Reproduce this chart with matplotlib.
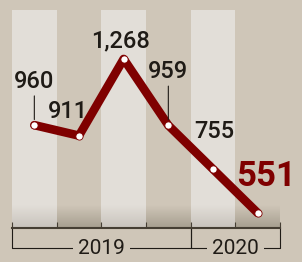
import numpy as np
import matplotlib
matplotlib.use('Agg')
import matplotlib.pyplot as plt

# values, one per column
values = [960, 911, 1268, 959, 755, 551]
value_labels = ['960', '911', '1,268', '959', '755', '551']
years = ['2019', '2020']
year_first = [0, 4]
year_last = [3, 5]

BG = '#cfc6b8'
LIGHT = '#e2ded8'
LIGHT_BOT = '#c8c3bc'
DARK_BOT = '#a69e8f'
RED = '#7f0000'
INK = '#1f1b16'
AXIS = '#453e33'

YMIN, YMAX = 481, 1496

# label offsets from the point, in pixels (dx, dy to baseline)
label_off = [(0, 37), (-11, 18), (-3, 12), (0, 47), (1, 31), (8, 27)]
leaders = [0, 3]

fig = plt.figure(figsize=(3.02, 2.62), dpi=100, facecolor=BG)
ax = fig.add_axes([12/302, 34/262, 268/302, 218/262])
ax.set_facecolor(BG)

x = np.arange(len(values))

# light columns on every other slot
light = x[::2]
ax.bar(light, YMAX - YMIN, bottom=YMIN, width=1.0, color=LIGHT, zorder=0)

# shaded strip at the foot of every column
grad_top = YMIN + 0.105 * (YMAX - YMIN)
t = np.linspace(0, 1, 50)[:, None]
for i in x:
    c0 = np.array(matplotlib.colors.to_rgb(LIGHT if i % 2 == 0 else BG))
    c1 = np.array(matplotlib.colors.to_rgb(LIGHT_BOT if i % 2 == 0 else DARK_BOT))
    img = (c0 * (1 - t) + c1 * t)[:, None, :]
    ax.imshow(img, extent=(i - 0.5, i + 0.5, YMIN, grad_top), aspect='auto',
              origin='upper', interpolation='bilinear', zorder=0.5)

ax.plot(x, values, color=RED, lw=6.2, solid_capstyle='round',
        solid_joinstyle='round', zorder=3)
ax.plot(x, values, ls='none', marker='o', ms=5.2, mfc='white', mec=RED,
        mew=0.6, zorder=4)

for i, (v, lab) in enumerate(zip(values, value_labels)):
    dx, dy = label_off[i]
    last = i == len(values) - 1
    kw = dict(family='Roboto', fontsize=25, fontweight='bold', color=RED) if last else \
        dict(family='Roboto', fontsize=17, fontweight='medium', color=INK)
    arrow = None
    if i in leaders:
        arrow = dict(arrowstyle='-', color=INK, lw=0.8, shrinkA=0, shrinkB=4)
    ax.annotate(lab, (i, v), xytext=(dx, dy), textcoords='offset pixels',
                ha='center', va='baseline', zorder=5, arrowprops=arrow, **kw)

ax.set_xlim(-0.5, len(values) - 0.5)
ax.set_ylim(YMIN, YMAX)
for s in ['left', 'right', 'top']:
    ax.spines[s].set_visible(False)
ax.spines['bottom'].set_color(AXIS)
ax.spines['bottom'].set_linewidth(1.5)
ax.set_yticks([])
ax.set_xticks(np.arange(-0.5, len(values)))
ax.set_xticklabels([])
ax.tick_params(axis='x', direction='in', length=4.3, width=0.8, color=AXIS)

# year brackets under the axis
tr = ax.get_xaxis_transform()
yb = -0.092
for name, a, b in zip(years, year_first, year_last):
    x0, x1 = a - 0.5, b + 0.5
    ax.plot([x0, x0, x1, x1], [0, yb, yb, 0], color=INK, lw=0.8,
            transform=tr, clip_on=False, zorder=1)
    ax.text((x0 + x1) / 2, yb, name, transform=tr, ha='center', va='center',
            family='Roboto', fontsize=15, color=INK,
            bbox=dict(boxstyle='square,pad=0.25', fc=BG, ec='none'), zorder=2)

fig.savefig('out.png', dpi=100, facecolor=BG)
